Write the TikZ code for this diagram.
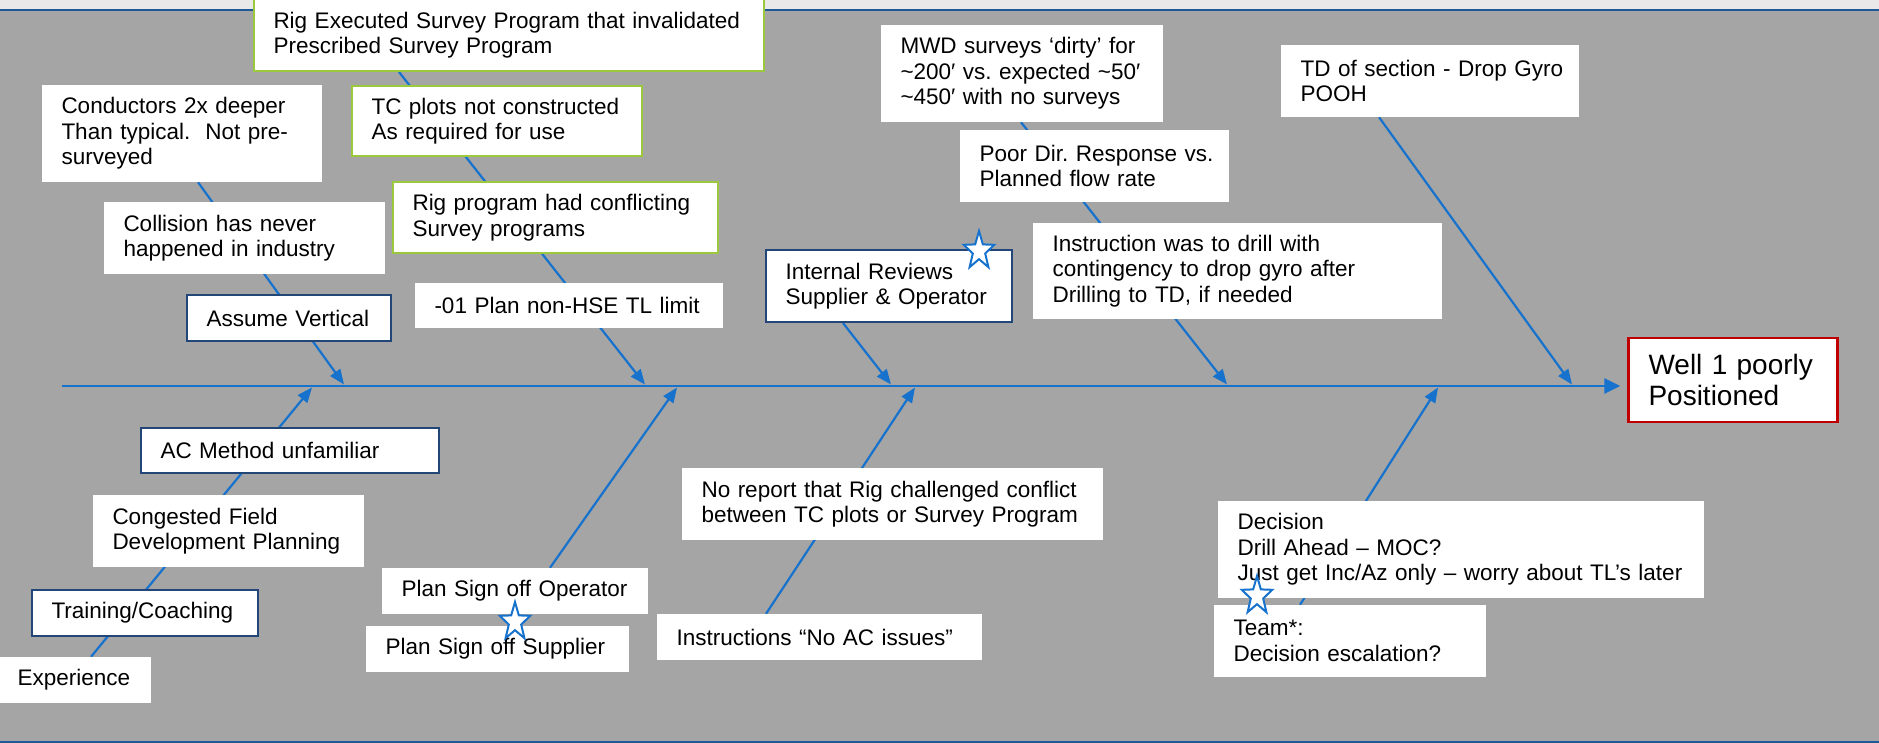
\documentclass[tikz,border=0pt]{standalone}
\usepackage{fontspec}
\setmainfont{Liberation Sans}
\usetikzlibrary{arrows.meta,shapes.geometric}
\pgfdeclarelayer{back}
\pgfdeclarelayer{links}
\pgfsetlayers{back,links,main}
\frenchspacing

\definecolor{bgray}{RGB}{165,165,165}
\definecolor{topstrip}{RGB}{233,233,233}
\definecolor{rulecol}{RGB}{30,88,150}
\definecolor{conn}{RGB}{22,114,204}
\definecolor{lime}{RGB}{155,200,60}
\definecolor{navy}{RGB}{35,70,120}
\definecolor{effred}{RGB}{192,0,0}

% cause box: name, style, left, top, right, bottom, text
\newcommand\causebox[7]{%
  \pgfmathsetmacro\bw{#5-#3}%
  \pgfmathsetmacro\bh{#6-#4}%
  \pgfmathsetmacro\tw{#5-#3-39}%
  \node[#2, minimum width=\bw pt, minimum height=\bh pt, text width=\tw pt]
    (#1) at ({(#3+#5)/2},{(#4+#6)/2}) {#7};}
% one unbreakable text line
\newcommand\tline[1]{\mbox{#1}}

\begin{document}
\begin{tikzpicture}[x=1pt,y=-1pt,
  every node/.style={inner sep=0pt},
  cause/.style={rectangle, fill=white, inner xsep=19.5pt, inner ysep=0pt,
    align=left, font=\fontsize{22.5}{25.5}\selectfont},
  plain/.style={cause},
  greenedge/.style={cause, draw=lime, line width=2pt},
  navyedge/.style={cause, draw=navy, line width=2pt},
  effect/.style={cause, draw=effred, line width=2.5pt, inner xsep=20pt,
    font=\fontsize{28}{31.6}\selectfont},
  bone/.style={draw=conn, line width=2.2pt, -{Triangle[length=15pt,width=12pt]}},
  spine/.style={draw=conn, line width=2.7pt, -{Triangle[length=16pt,width=15pt]}},
  flag/.style={star, star points=5, star point ratio=2.45, minimum size=40pt,
    draw=conn, fill=white, line width=2pt, xscale=0.8, transform shape}]

% slide background
\begin{pgfonlayer}{back}
  \fill[bgray] (0,0) rectangle (1879,743);
  \fill[topstrip] (0,0) rectangle (1879,9);
  \fill[rulecol] (0,9) rectangle (1879,11.5);
  \fill[rulecol] (0,740.5) rectangle (1879,743);
\end{pgfonlayer}
\useasboundingbox (0,0) rectangle (1879,743);

% upper causes
\causebox{rigexec}{greenedge}{254}{-1}{764}{71}{\tline{Rig Executed Survey Program that invalidated}\\\tline{Prescribed Survey Program}}
\causebox{cond}{plain}{42}{85}{322}{182}{\tline{Conductors 2x deeper}\\\tline{Than typical.\ \ Not pre-}\\\tline{surveyed}}
\causebox{tcplots}{greenedge}{352}{86}{642}{156}{\tline{TC plots not constructed}\\\tline{As required for use}}
\causebox{collision}{plain}{104}{202}{385}{274}{\tline{Collision has never}\\\tline{happened in industry}}
\causebox{rigprog}{greenedge}{393}{182}{718}{253}{\tline{Rig program had conflicting}\\\tline{Survey programs}}
\causebox{assume}{navyedge}{187}{295}{391}{341}{\tline{Assume Vertical}}
\causebox{plan01}{plain}{415}{283}{723}{328}{\tline{-01 Plan non-HSE TL limit}}
\causebox{intrev}{navyedge}{766}{250}{1012}{322}{\tline{Internal Reviews}\\\tline{Supplier \& Operator}}
\causebox{mwd}{plain}{881}{25}{1163}{122}{\tline{MWD surveys ‘dirty’ for}\\\tline{\textasciitilde 200′ vs. expected \textasciitilde 50′}\\\tline{\textasciitilde 450′ with no surveys}}
\causebox{poordir}{plain}{960}{130}{1229}{202}{\tline{Poor Dir. Response vs.}\\\tline{Planned flow rate}}
\causebox{instr}{plain}{1033}{223}{1442}{319}{\tline{Instruction was to drill with}\\\tline{contingency to drop gyro after}\\\tline{Drilling to TD, if needed}}
\causebox{tdsec}{plain}{1281}{45}{1579}{117}{\tline{TD of section - Drop Gyro}\\\tline{POOH}}

% effect
\causebox{effect}{effect}{1629}{338}{1837}{422}{\tline{Well 1 poorly}\\\tline{Positioned}}

% lower causes
\causebox{acmeth}{navyedge}{141}{428}{439}{473}{\tline{AC Method unfamiliar}}
\causebox{congested}{plain}{93}{495}{364}{567}{\tline{Congested Field}\\\tline{Development Planning}}
\causebox{training}{navyedge}{32}{590}{258}{636}{\tline{Training/Coaching}}
\causebox{experience}{plain}{-2}{657}{151}{703}{\tline{Experience}}
\causebox{planop}{plain}{382}{568}{648}{614}{\tline{Plan Sign off Operator}}
\causebox{plansup}{plain}{366}{626}{629}{672}{\tline{Plan Sign off Supplier}}
\causebox{noreport}{plain}{682}{468}{1103}{540}{\tline{No report that Rig challenged conflict}\\\tline{between TC plots or Survey Program}}
\causebox{noac}{plain}{657}{614}{982}{660}{\tline{Instructions “No AC issues”}}
\causebox{decision}{plain}{1218}{501}{1704}{598}{\tline{Decision}\\\tline{Drill Ahead – MOC?}\\\tline{Just get Inc/Az only – worry about TL’s later}}
\causebox{team}{plain}{1214}{605}{1486}{677}{\tline{Team*:}\\\tline{Decision escalation?}}

% highlight stars
\node[flag] (star1) at (979,251) {};
\node[flag] (star2) at (515,622) {};
\node[flag] (star3) at (1257,596) {};

% spine and bones
\coordinate (sp0) at (62,386);
\coordinate (tA) at (344,384.5);
\coordinate (tB) at (645,384.5);
\coordinate (tC) at (891,384.5);
\coordinate (tD) at (1227,384.5);
\coordinate (tE) at (1572,384.5);
\coordinate (tF) at (312,387.5);
\coordinate (tG) at (677,387.5);
\coordinate (tH) at (915,387.5);
\coordinate (tI) at (1438,387.5);
\coordinate (sA) at (198,0);
\coordinate (sB) at (399,0);
\coordinate (sC) at (843,0);
\coordinate (sD) at (1021,0);
\coordinate (sE) at (1379,0);
\coordinate (sF) at (91,0);
\coordinate (sG) at (550,0);
\coordinate (sH) at (766,0);
\coordinate (sI) at (1300,0);

\begin{pgfonlayer}{links}
  \draw[spine, shorten >=7pt] (sp0) -- (sp0 -| effect.west);
  \draw[bone] (cond.south -| sA) -- (tA);
  \draw[bone] (rigexec.south -| sB) -- (tB);
  \draw[bone] (intrev.south -| sC) -- (tC);
  \draw[bone] (mwd.south -| sD) -- (tD);
  \draw[bone] (tdsec.south -| sE) -- (tE);
  \draw[bone] (experience.north -| sF) -- (tF);
  \draw[bone] (planop.north -| sG) -- (tG);
  \draw[bone] (noac.north -| sH) -- (tH);
  \draw[bone] (team.north -| sI) -- (tI);
\end{pgfonlayer}
\end{tikzpicture}
\end{document}
